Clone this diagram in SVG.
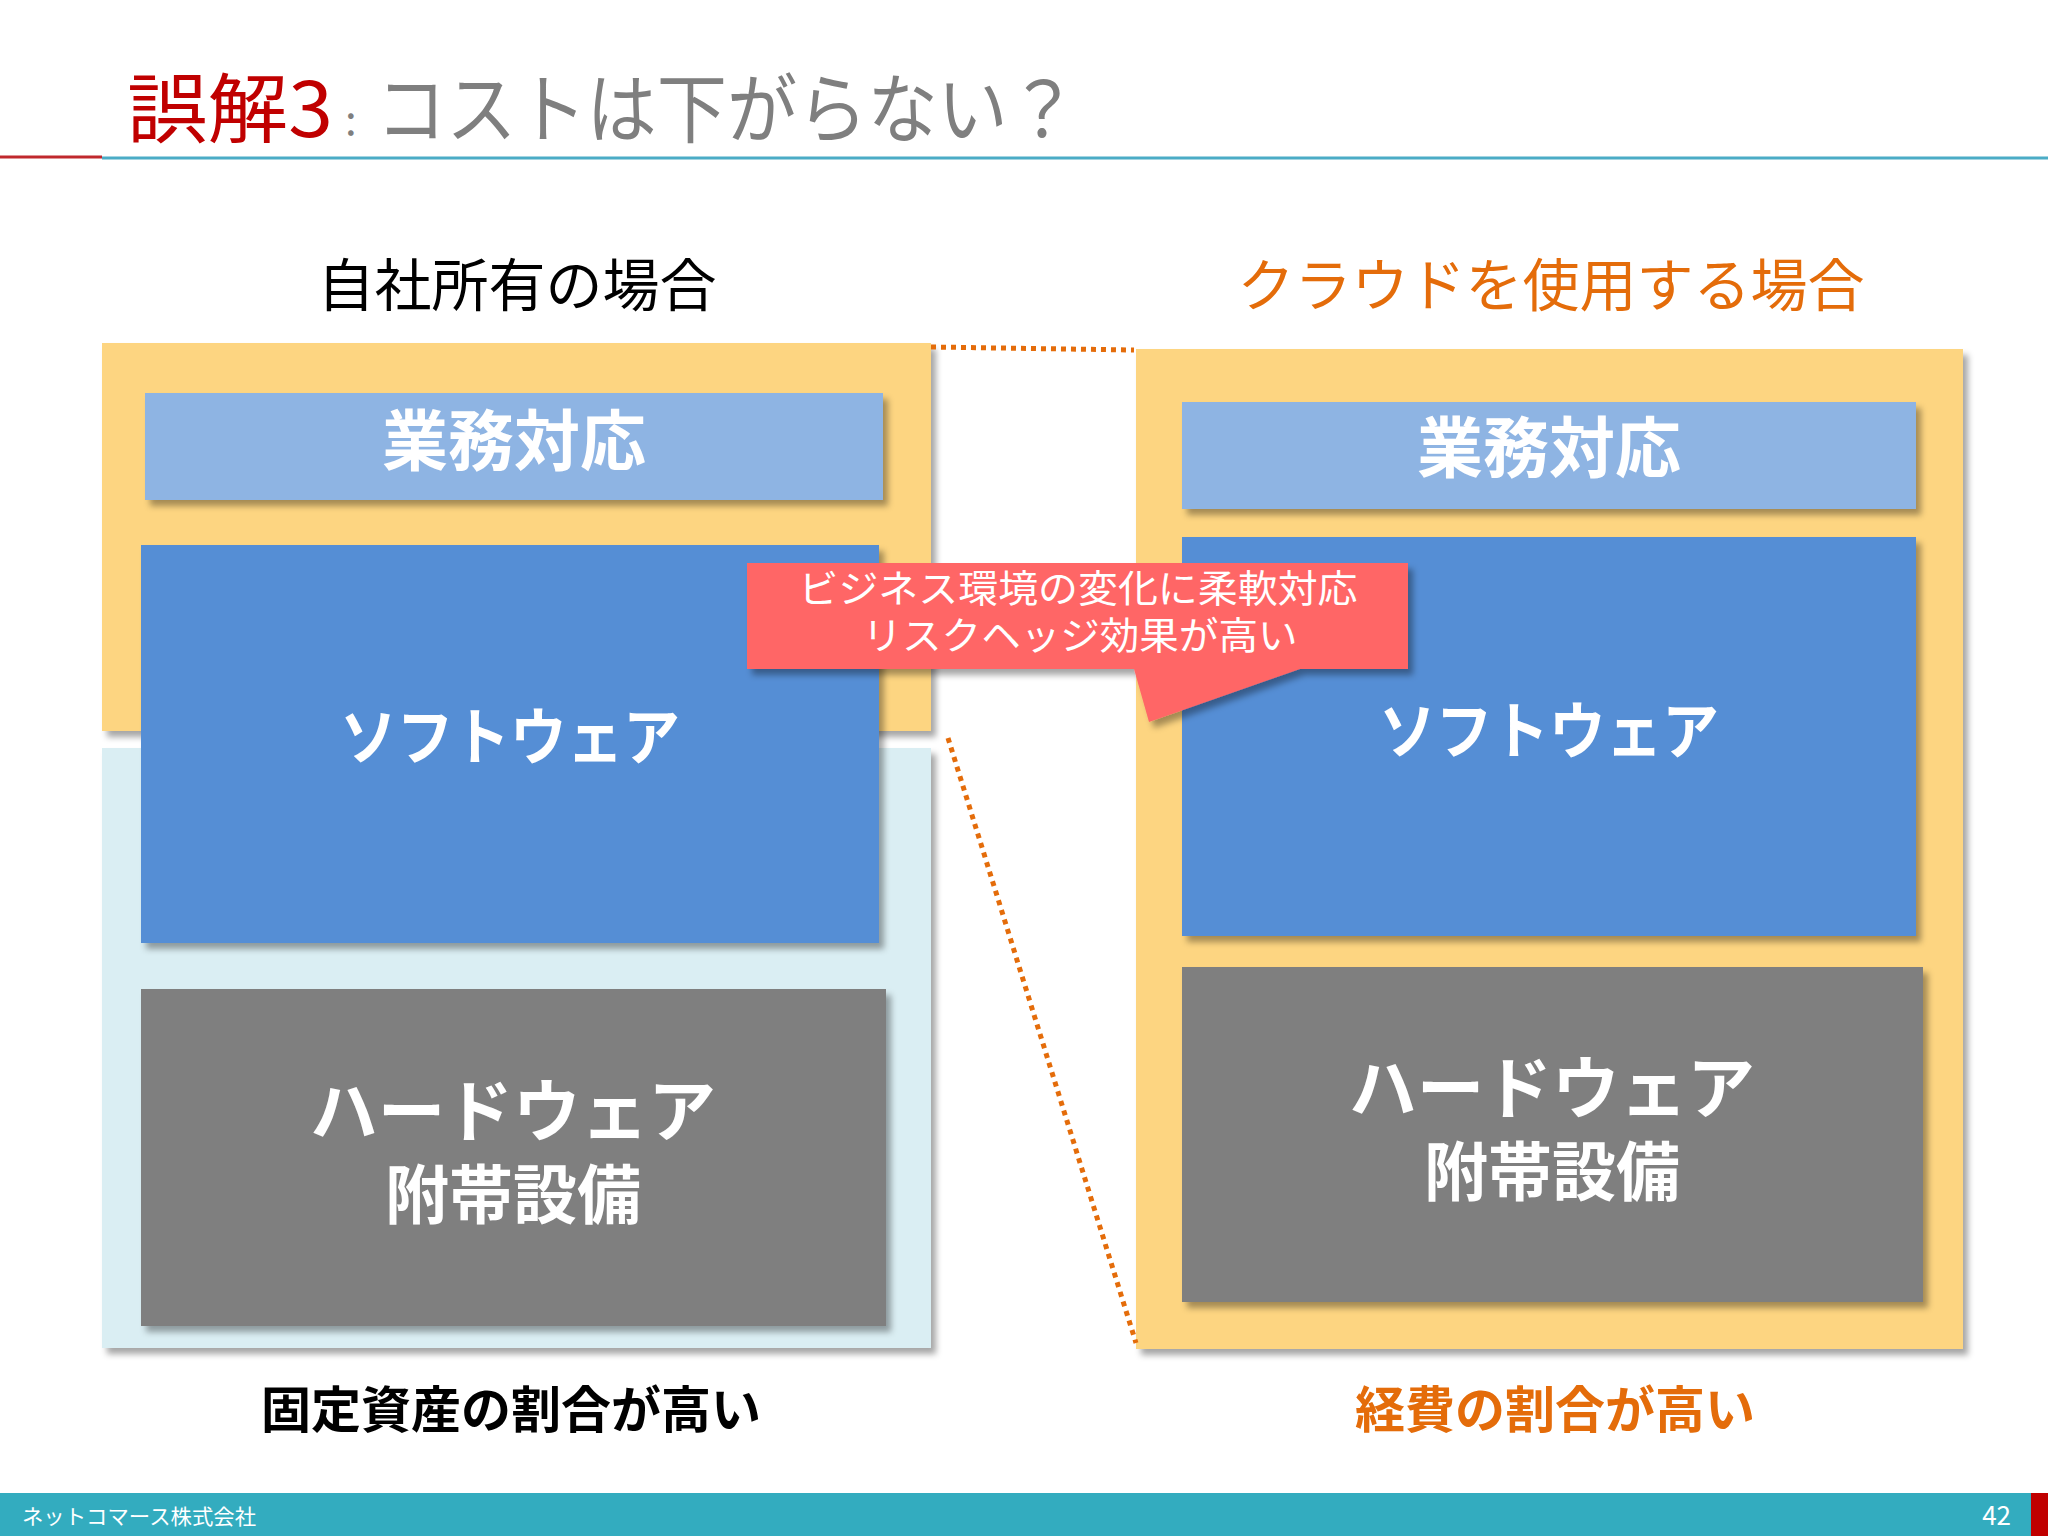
<svg xmlns="http://www.w3.org/2000/svg" width="2048" height="1536" viewBox="0 0 2048 1536">
<defs>
<filter id="sh" x="-5%" y="-5%" width="115%" height="120%">
<feDropShadow dx="5" dy="6" stdDeviation="3" flood-color="#000" flood-opacity="0.35"/>
</filter>
<style>
text{font-family:"Noto Sans CJK JP","Noto Sans",sans-serif;}
.lbl{fill:#fff;font-weight:bold;text-anchor:middle;}
.head{font-size:57px;text-anchor:middle;}
.dot{fill:none;stroke:#E46C0A;stroke-width:5;stroke-dasharray:5 5;}
</style>
</defs>
<rect width="2048" height="1536" fill="#fff"/>

<g id="title">
<text x="127" y="137" font-size="76" fill="#C00000" textLength="206" lengthAdjust="spacingAndGlyphs">誤解3</text>
<text x="345" y="135" font-size="42" fill="#7F7F7F">:</text>
<text x="376" y="137" font-size="76" fill="#7F7F7F" textLength="702" lengthAdjust="spacingAndGlyphs">コストは下がらない？</text>
<line x1="0" y1="157" x2="102" y2="157" stroke="#C0282D" stroke-width="3"/>
<line x1="102" y1="158" x2="2048" y2="158" stroke="#4BACC6" stroke-width="3"/>
</g>

<g id="heading-left"><text class="head" x="517" y="306" fill="#000">自社所有の場合</text></g>
<g id="heading-right"><text class="head" x="1551" y="306" fill="#E46C0A">クラウドを使用する場合</text></g>

<g id="left-own-yellow"><rect x="102" y="343" width="829" height="388" fill="#FDD581" filter="url(#sh)"/></g>
<g id="left-own-blue"><rect x="102" y="748" width="829" height="600" fill="#DAEEF3" filter="url(#sh)"/></g>
<g id="right-cloud-yellow"><rect x="1136" y="349" width="827" height="1000" fill="#FDD581" filter="url(#sh)"/></g>

<g id="left-business">
<rect x="145" y="393" width="738" height="107" fill="#8EB4E3" filter="url(#sh)"/>
<text class="lbl" x="514" y="465" font-size="66">業務対応</text>
</g>
<g id="left-software">
<rect x="141" y="545" width="738" height="398" fill="#558ED5" filter="url(#sh)"/>
<text class="lbl" x="510" y="760" font-size="62" font-weight="500" textLength="340" lengthAdjust="spacingAndGlyphs">ソフトウェア</text>
</g>
<g id="left-hardware">
<rect x="141" y="989" width="745" height="337" fill="#7F7F7F" filter="url(#sh)"/>
<text class="lbl" x="513" y="1136" font-size="68" textLength="406" lengthAdjust="spacingAndGlyphs">ハードウェア</text>
<text class="lbl" x="513" y="1218" font-size="64">附帯設備</text>
</g>

<g id="right-business">
<rect x="1182" y="402" width="734" height="107" fill="#8EB4E3" filter="url(#sh)"/>
<text class="lbl" x="1549" y="472" font-size="66">業務対応</text>
</g>
<g id="right-software">
<rect x="1182" y="537" width="734" height="399" fill="#558ED5" filter="url(#sh)"/>
<text class="lbl" x="1549" y="754" font-size="62" font-weight="500" textLength="340" lengthAdjust="spacingAndGlyphs">ソフトウェア</text>
</g>
<g id="right-hardware">
<rect x="1182" y="967" width="741" height="335" fill="#7F7F7F" filter="url(#sh)"/>
<text class="lbl" x="1552" y="1113" font-size="68" textLength="406" lengthAdjust="spacingAndGlyphs">ハードウェア</text>
<text class="lbl" x="1552" y="1195" font-size="64">附帯設備</text>
</g>

<g id="connectors">
<line class="dot" x1="931" y1="347" x2="1134" y2="350"/>
<line class="dot" x1="948" y1="738" x2="1136" y2="1343"/>
</g>

<g id="callout">
<path d="M747 563 H1408 V669 H1300 L1149 722 L1134 669 H747 Z" fill="#FF6666" filter="url(#sh)"/>
<text x="1078" y="602" font-size="38" fill="#fff" text-anchor="middle" textLength="559" lengthAdjust="spacingAndGlyphs">ビジネス環境の変化に柔軟対応</text>
<text x="1080" y="649" font-size="38" fill="#fff" text-anchor="middle" textLength="435" lengthAdjust="spacingAndGlyphs">リスクヘッジ効果が高い</text>
</g>

<g id="note-left"><text x="511" y="1428" font-size="50" font-weight="bold" fill="#000" text-anchor="middle">固定資産の割合が高い</text></g>
<g id="note-right"><text x="1555" y="1428" font-size="50" font-weight="bold" fill="#E46C0A" text-anchor="middle">経費の割合が高い</text></g>

<g id="footer">
<rect x="0" y="1493" width="2048" height="43" fill="#33ACBF"/>
<rect x="2031" y="1493" width="17" height="43" fill="#C00000"/>
<text x="22" y="1524" font-size="21" fill="#fff" textLength="234" lengthAdjust="spacingAndGlyphs">ネットコマース株式会社</text>
<text x="2011" y="1525" font-size="26" fill="#fff" text-anchor="end">42</text>
</g>
</svg>
